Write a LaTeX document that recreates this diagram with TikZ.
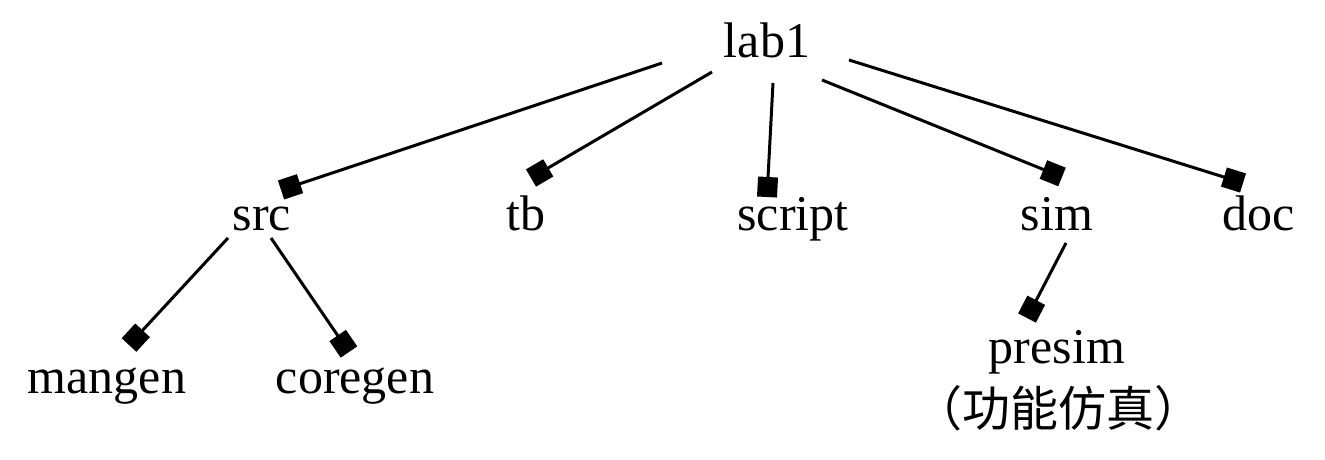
\documentclass[tikz,border=0pt]{standalone}
\usepackage{fontspec}
\setmainfont{Liberation Serif}
\newfontfamily\cjkfont{Noto Sans CJK SC}
\usetikzlibrary{arrows.meta}

\begin{document}
\begin{tikzpicture}[
  x=1pt,y=1pt,
  dir/.style={anchor=base,inner sep=0pt,font=\fontsize{50}{60}\selectfont},
  link/.style={-{Square[length=20pt,width=20pt]},line width=3pt,draw=black}
]
\useasboundingbox[fill=white] (0,0) rectangle (1325,-460);
% folders
\node[dir] (lab1) at (767,-58) {lab1};
\node[dir] (src) at (262,-230) {src};
\node[dir] (tb) at (526,-230) {tb};
\node[dir] (script) at (793,-230) {script};
\node[dir] (sim) at (1057,-230) {sim};
\node[dir] (doc) at (1259,-230) {doc};
\node[dir] (mangen) at (107,-393) {mangen};
\node[dir] (coregen) at (355,-393) {coregen};
\node[dir] (presim) at (1057,-363) {presim};
\node[anchor=base,inner sep=0pt,font=\cjkfont\fontsize{48}{56}\selectfont] (presimnote) at (1058,-426) {（功能仿真）};
% links
\draw[link] ([shift={(-105,-5)}]lab1.base) -- ([shift={(19,40)}]src.base);
\draw[link] ([shift={(-55,-14)}]lab1.base) -- ([shift={(5,52)}]tb.base);
\draw[link] ([shift={(6,-25)}]lab1.base) -- ([shift={(-26,33)}]script.base);
\draw[link] ([shift={(55,-22)}]lab1.base) -- ([shift={(5,53)}]sim.base);
\draw[link] ([shift={(82,-2)}]lab1.base) -- ([shift={(-16,47)}]doc.base);
\draw[link] ([shift={(-34,-8)}]src.base) -- ([shift={(22,48)}]mangen.base);
\draw[link] ([shift={(9,-8)}]src.base) -- ([shift={(-6,41)}]coregen.base);
\draw[link] ([shift={(9,-13)}]sim.base) -- ([shift={(-30,45)}]presim.base);
\end{tikzpicture}
\end{document}
